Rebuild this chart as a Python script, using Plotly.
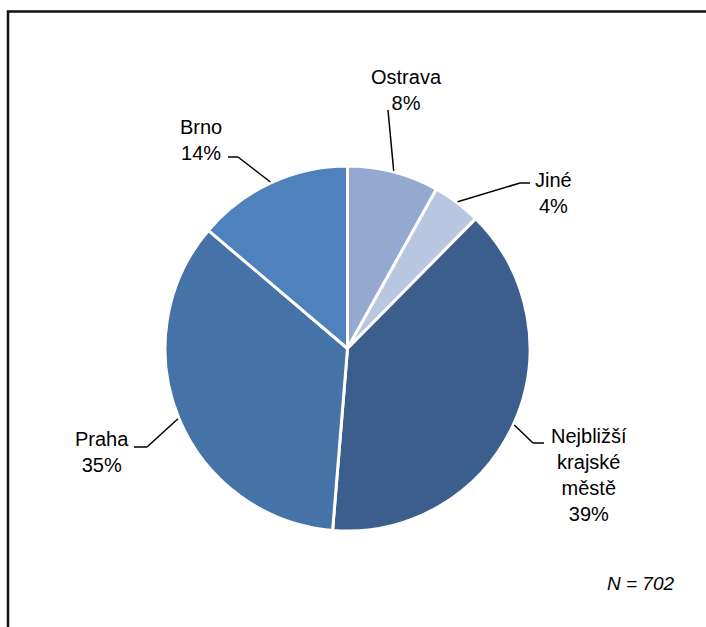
import math
import plotly.graph_objects as go

# ---- data ----
labels = ["Ostrava", "Jiné", "Nejbližší krajské městě", "Praha", "Brno"]
label_text = ["Ostrava<br>8%", "Jiné<br>4%", "Nejbližší<br>krajské<br>městě<br>39%", "Praha<br>35%", "Brno<br>14%"]
values = [8.1, 4.3, 38.9, 34.9, 13.8]
colors = ["#94A9CF", "#B9C6E1", "#3C5E8D", "#4572A7", "#4F81BD"]
note = "N = 702"

# ---- layout (pixels) ----
W, H = 706, 627
cx, cy, R = 347.5, 348.5, 182.5
# leader elbow and end points, label anchor per slice
elbows = [(388, 110), (520, 183), (533, 443), (147, 447), (238, 157)]
ends = [(388, 110), (530, 183), (544, 443), (134, 447), (228, 157)]
label_pos = [(406, 90, "center", "middle"), (533, 193, "left", "middle"),
             (549, 475, "left", "middle"), (131, 452, "right", "middle"),
             (224, 140, "right", "middle")]

def px(x):
    return x / W

def py(y):
    return 1 - y / H

fig = go.Figure(go.Pie(
    labels=labels, values=values, sort=False, direction="clockwise", rotation=0,
    marker=dict(colors=colors, line=dict(color="white", width=3)),
    textinfo="none", hoverinfo="label+percent", showlegend=False,
    domain=dict(x=[px(cx - R), px(cx + R)], y=[py(cy + R), py(cy - R)]),
))

shapes = []
annotations = []
total = sum(values)
cum = 0
for i, v in enumerate(values):
    mid = (cum + v / 2) / total * 2 * math.pi
    cum += v
    sx = cx + (R + 1) * math.sin(mid)
    sy = cy - (R + 1) * math.cos(mid)
    ex, ey = elbows[i]
    fx, fy = ends[i]
    shapes.append(dict(type="line", xref="paper", yref="paper",
                       x0=px(sx), y0=py(sy), x1=px(ex), y1=py(ey),
                       line=dict(color="black", width=1.5)))
    if (fx, fy) != (ex, ey):
        shapes.append(dict(type="line", xref="paper", yref="paper",
                           x0=px(ex), y0=py(ey), x1=px(fx), y1=py(fy),
                           line=dict(color="black", width=1.5)))
    lx, ly, xa, ya = label_pos[i]
    annotations.append(dict(x=px(lx), y=py(ly), xref="paper", yref="paper",
                            text=label_text[i], showarrow=False, align="center",
                            xanchor=xa, yanchor=ya,
                            font=dict(family="Liberation Sans, Arial", size=20, color="black")))

annotations.append(dict(x=px(677), y=py(583), xref="paper", yref="paper",
                        text="<i>" + note + "</i>", showarrow=False,
                        xanchor="right", yanchor="middle",
                        font=dict(family="Liberation Sans, Arial", size=19, color="black")))

# frame
shapes.append(dict(type="rect", xref="paper", yref="paper",
                   x0=px(8), y0=py(700), x1=px(800), y1=py(11.5),
                   line=dict(color="#111111", width=2.5), fillcolor="rgba(0,0,0,0)"))

fig.update_layout(
    width=W, height=H, margin=dict(l=0, r=0, t=0, b=0),
    paper_bgcolor="white", plot_bgcolor="white",
    shapes=shapes, annotations=annotations,
)

fig.write_html("out.html", config={"displayModeBar": False},
               post_script="document.body.style.margin='0';document.body.style.overflow='hidden';")
